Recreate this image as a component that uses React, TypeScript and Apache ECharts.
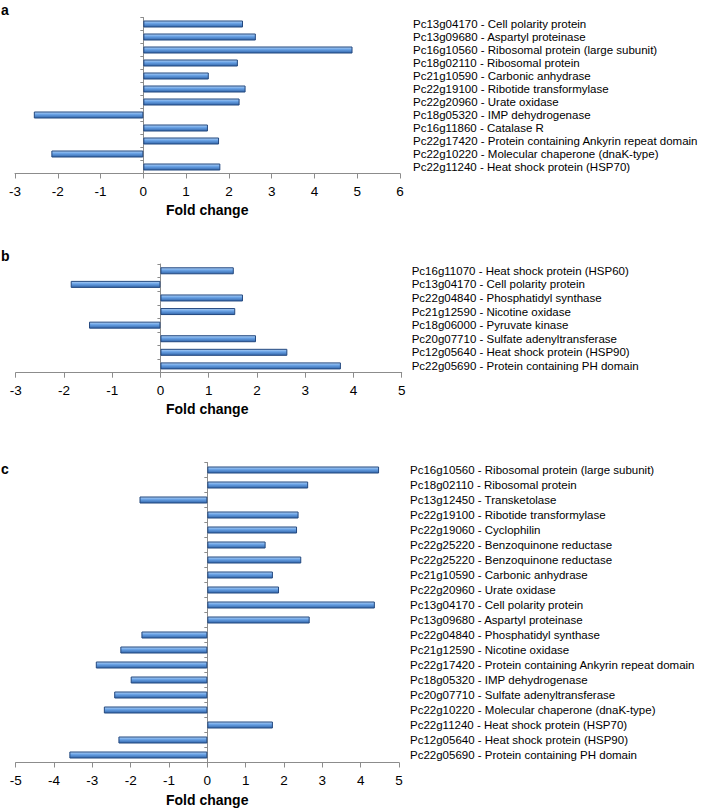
import React, { useEffect, useRef } from "react";
import * as echarts from "echarts";

const aLabels = [
  "Pc13g04170 - Cell polarity protein",
  "Pc13g09680 - Aspartyl proteinase",
  "Pc16g10560 - Ribosomal protein (large subunit)",
  "Pc18g02110 - Ribosomal protein",
  "Pc21g10590 - Carbonic anhydrase",
  "Pc22g19100 - Ribotide transformylase",
  "Pc22g20960 - Urate oxidase",
  "Pc18g05320 - IMP dehydrogenase",
  "Pc16g11860 - Catalase R",
  "Pc22g17420 - Protein containing Ankyrin repeat domain",
  "Pc22g10220 - Molecular chaperone (dnaK-type)",
  "Pc22g11240 - Heat shock protein (HSP70)",
];
const aValues = [2.33, 2.63, 4.89, 2.21, 1.53, 2.39, 2.25, -2.56, 1.51, 1.77, -2.15, 1.8];

const bLabels = [
  "Pc16g11070 - Heat shock protein (HSP60)",
  "Pc13g04170 - Cell polarity protein",
  "Pc22g04840 - Phosphatidyl synthase",
  "Pc21g12590 - Nicotine oxidase",
  "Pc18g06000 - Pyruvate kinase",
  "Pc20g07710 - Sulfate adenyltransferase",
  "Pc12g05640 - Heat shock protein (HSP90)",
  "Pc22g05690 - Protein containing PH domain",
];
const bValues = [1.52, -1.86, 1.71, 1.55, -1.48, 1.98, 2.63, 3.74];

const cLabels = [
  "Pc16g10560 - Ribosomal protein (large subunit)",
  "Pc18g02110 - Ribosomal protein",
  "Pc13g12450 - Transketolase",
  "Pc22g19100 - Ribotide transformylase",
  "Pc22g19060 - Cyclophilin",
  "Pc22g25220 - Benzoquinone reductase",
  "Pc22g25220 - Benzoquinone reductase",
  "Pc21g10590 - Carbonic anhydrase",
  "Pc22g20960 - Urate oxidase",
  "Pc13g04170 - Cell polarity protein",
  "Pc13g09680 - Aspartyl proteinase",
  "Pc22g04840 - Phosphatidyl synthase",
  "Pc21g12590 - Nicotine oxidase",
  "Pc22g17420 - Protein containing Ankyrin repeat domain",
  "Pc18g05320 - IMP dehydrogenase",
  "Pc20g07710 - Sulfate adenyltransferase",
  "Pc22g10220 - Molecular chaperone (dnaK-type)",
  "Pc22g11240 - Heat shock protein (HSP70)",
  "Pc12g05640 - Heat shock protein (HSP90)",
  "Pc22g05690 - Protein containing PH domain",
];
const cValues = [
  4.48, 2.63, -1.77, 2.38, 2.34, 1.52, 2.45, 1.71, 1.87, 4.37, 2.67, -1.72, -2.27, -2.91, -2.0, -2.43,
  -2.7, 1.71, -2.32, -3.6,
];

const panelLetters = ["a", "b", "c"];
const axisTitle = "Fold change";

const FONT = "Arial, 'Liberation Sans', Helvetica, sans-serif";
const AXIS_GRAY = "#8c8c8c";

const barStyle = {
  color: new echarts.graphic.LinearGradient(0, 0, 0, 1, [
    { offset: 0, color: "#b4d3f6" },
    { offset: 0.4, color: "#6aa3e6" },
    { offset: 1, color: "#3366aa" },
  ]),
  borderColor: "#23487f",
  borderWidth: 1,
};

export default function App() {
  const ref = useRef<HTMLDivElement>(null);

  useEffect(() => {
    if (!ref.current) return;
    const chart = echarts.init(ref.current, null, { renderer: "svg" });

    const panels = [
      { labels: aLabels, values: aValues, min: -3, max: 6, grid: { left: 15, top: 17.5, width: 385, height: 156 }, margin: 13, titleY: 211, letterY: 11 },
      { labels: bLabels, values: bValues, min: -3, max: 5, grid: { left: 15.7, top: 264, width: 386, height: 108.7 }, margin: 10, titleY: 410, letterY: 257 },
      { labels: cLabels, values: cValues, min: -5, max: 5, grid: { left: 15.7, top: 462.5, width: 383.3, height: 300 }, margin: 11, titleY: 801, letterY: 470 },
    ];

    const grids: any[] = [];
    const xAxes: any[] = [];
    const yAxes: any[] = [];
    const series: any[] = [];
    const graphics: any[] = [];

    panels.forEach((p, i) => {
      grids.push({ ...p.grid, containLabel: false, outerBoundsMode: "none" });
      xAxes.push({
        type: "value",
        gridIndex: i,
        min: p.min,
        max: p.max,
        interval: 1,
        splitLine: { show: false },
        axisLine: { show: true, lineStyle: { color: AXIS_GRAY, width: 1 } },
        axisTick: { show: true, length: 5, lineStyle: { color: AXIS_GRAY } },
        axisLabel: { color: "#000", fontSize: 13.5, fontFamily: FONT, margin: 11 },
      });
      yAxes.push({
        type: "category",
        gridIndex: i,
        data: p.labels,
        inverse: true,
        position: "left",
        axisLine: { show: true, onZero: true, lineStyle: { color: AXIS_GRAY, width: 1 } },
        axisTick: { show: true, interval: 0, length: 3, inside: false, lineStyle: { color: AXIS_GRAY } },
        axisLabel: { show: false, interval: 0 },
        splitLine: { show: false },
      });
      yAxes.push({
        type: "category",
        gridIndex: i,
        data: p.labels,
        inverse: true,
        position: "right",
        axisLine: { show: false, onZero: false },
        axisTick: { show: false },
        axisLabel: { show: true, interval: 0, color: "#000", fontSize: 11.5, fontFamily: FONT, margin: p.margin, align: "left" },
        splitLine: { show: false },
      });
      series.push({
        type: "bar",
        xAxisIndex: i,
        yAxisIndex: i * 2,
        data: p.values,
        barWidth: 7,
        itemStyle: barStyle,
      });
      graphics.push({
        type: "text",
        left: 208 - 42,
        top: p.titleY - 8,
        style: { text: axisTitle, fontSize: 14, fontWeight: "bold", fontFamily: FONT, fill: "#000" },
      });
      graphics.push({
        type: "text",
        left: 1,
        top: p.letterY - 8,
        style: { text: panelLetters[i], fontSize: 14, fontWeight: "bold", fontFamily: FONT, fill: "#000" },
      });
    });

    chart.setOption({
      animation: false,
      backgroundColor: "#ffffff",
      grid: grids,
      xAxis: xAxes,
      yAxis: yAxes,
      series,
      graphic: graphics,
    });

    return () => chart.dispose();
  }, []);

  return (
    <div
      ref={ref}
      style={{ position: "absolute", left: 0, top: 0, width: 701, height: 812 }}
    />
  );
}
